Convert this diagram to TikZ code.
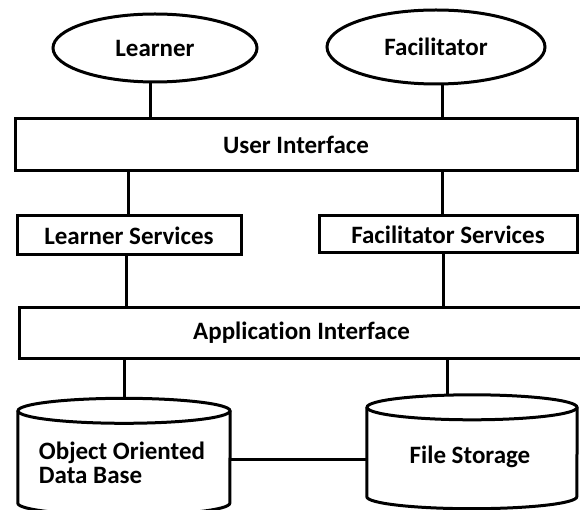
\documentclass[tikz,border=0pt]{standalone}
\usepackage{fontspec}
\setmainfont{Carlito}[Ligatures=NoCommon]
\usetikzlibrary{shapes.geometric}
\begin{document}
\begin{tikzpicture}[x=1pt,y=-1pt,
  every node/.style={font=\fontsize{25}{24}\selectfont\bfseries, inner sep=0pt},
  boxnode/.style={draw, rectangle, line width=3pt},
  actor/.style={draw, ellipse, line width=3pt},
  link/.style={line width=3pt},
  cylline/.style={line width=3pt}]
\path[use as bounding box, fill=white] (0,0) rectangle (580,510);

% actors
\node[actor, minimum width=204pt, minimum height=68pt] (L) at (155,48) {Learner};
\node[actor, minimum width=218pt, minimum height=74pt] (F) at (436,47) {Facilitator};

% boxes
\node[boxnode, minimum width=562pt, minimum height=52pt] (UI) at (296,145) {User Interface};
\node[boxnode, minimum width=224pt, minimum height=39pt] (LS) at (129,235.5) {Learner Services};
\node[boxnode, minimum width=258pt, minimum height=37pt] (FS) at (448,234.5) {Facilitator Services};
\node[boxnode, minimum width=565pt, minimum height=51pt] (AI) at (301.5,332.5) {Application Interface};

% cylinders (bodies as nodes, outlines drawn from their anchors)
\node[minimum width=212pt, minimum height=92pt] (DB) at (124,457) {};
\draw[cylline] (DB.north west) -- (DB.south west)
  arc[start angle=180, end angle=360, x radius=106pt, y radius=12pt] -- (DB.north east);
\draw[cylline] (DB.north) ellipse[x radius=106pt, y radius=12.5pt];
\node[align=left, font=\fontsize{25}{24.5}\selectfont\bfseries] (DBtext) at (122,463) {Object Oriented\\Data Base};

\node[minimum width=210pt, minimum height=89pt] (ST) at (472,452) {};
\draw[cylline] (ST.north west) -- (ST.south west)
  arc[start angle=180, end angle=360, x radius=105pt, y radius=12pt] -- (ST.north east);
\draw[cylline] (ST.north) ellipse[x radius=105pt, y radius=12.5pt];
\node (STtext) at (470,457) {File Storage};

% connectors
\draw[link] ([xshift=-5pt]L.south) -- ([xshift=-5pt]L.south |- UI.north);
\draw[link] ([xshift=6pt]F.south) -- ([xshift=6pt]F.south |- UI.north);
\draw[link] ([xshift=-1pt]LS.north |- UI.south) -- ([xshift=-1pt]LS.north);
\draw[link] ([xshift=-6pt]FS.north |- UI.south) -- ([xshift=-6pt]FS.north);
\draw[link] ([xshift=-3pt]LS.south) -- ([xshift=-3pt]LS.south |- AI.north);
\draw[link] ([xshift=-5pt]FS.south) -- ([xshift=-5pt]FS.south |- AI.north);
\draw[link] (DB.north |- AI.south) -- ([yshift=12.5pt]DB.north);
\draw[link] ([xshift=-25pt]ST.north |- AI.south) -- ([xshift=-25pt,yshift=12pt]ST.north);
\draw[link] ([yshift=-2pt]DB.east) -- ([yshift=-2pt]DB.east -| ST.west);
\end{tikzpicture}
\end{document}
